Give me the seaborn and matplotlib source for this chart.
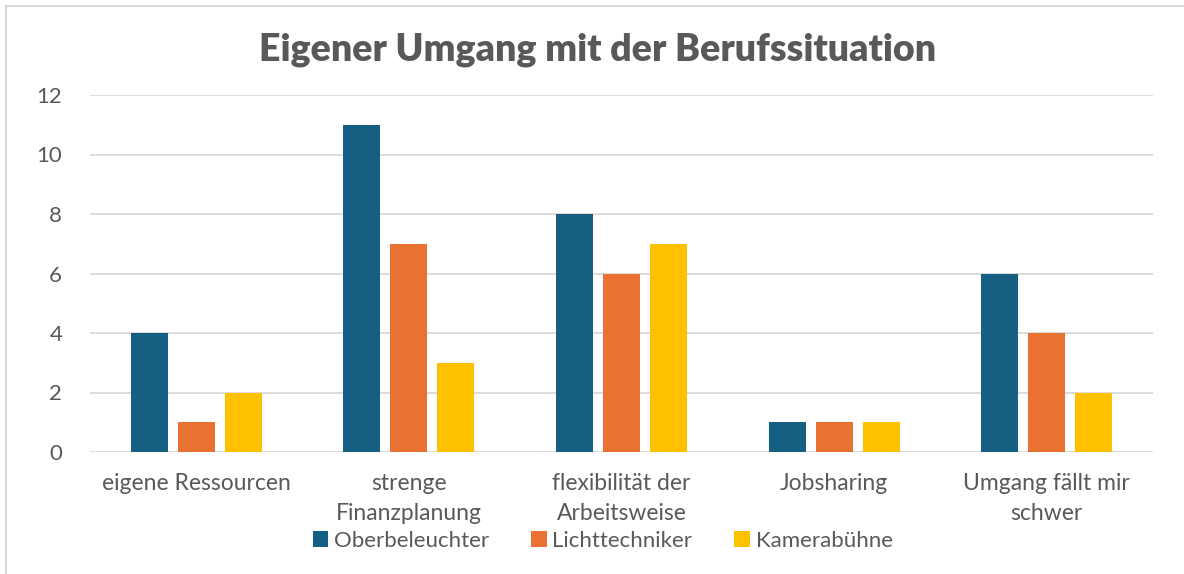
import matplotlib
matplotlib.use('Agg')
import matplotlib.pyplot as plt
import numpy as np
import pandas as pd
import seaborn as sns
from matplotlib.patches import Rectangle

# Daten aus dem Diagramm
kategorien = ['eigene Ressourcen', 'strenge\nFinanzplanung', 'flexibilität der\nArbeitsweise',
              'Jobsharing', 'Umgang fällt mir\nschwer']
gruppen = ['Oberbeleuchter', 'Lichttechniker', 'Kamerabühne']
oberbeleuchter = [4, 11, 8, 1, 6]
lichttechniker = [1, 7, 6, 1, 4]
kamerabuehne = [2, 3, 7, 1, 2]
farben = ['#156082', '#E97132', '#FFC000']

df = pd.DataFrame({
    'Kategorie': kategorien * 3,
    'Gruppe': np.repeat(gruppen, len(kategorien)),
    'Wert': oberbeleuchter + lichttechniker + kamerabuehne,
})

sns.set_theme(style='white')
plt.rcParams['font.family'] = ['Lato', 'DejaVu Sans']
textfarbe = '#595959'

fig = plt.figure(figsize=(11.84, 5.74), dpi=100)
ax = fig.add_axes([90 / 1184, 1 - 452 / 574, (1153 - 90) / 1184, (452 - 95) / 574])

sns.barplot(data=df, x='Kategorie', y='Wert', hue='Gruppe', palette=farben,
            width=0.663, gap=0.21, ax=ax, saturation=1, legend=True,
            edgecolor='none', linewidth=0)

ax.set_xlim(-0.5, 4.5)
ax.set_ylim(0, 12)
ax.set_yticks(range(0, 13, 2))
ax.yaxis.grid(True, color='#D9D9D9', linewidth=1.3)
ax.set_axisbelow(True)
for s in ax.spines.values():
    s.set_visible(False)
ax.set_xlabel('')
ax.set_ylabel('')
ax.tick_params(axis='y', labelsize=16, colors=textfarbe, pad=20, length=0)
ax.tick_params(axis='x', labelsize=16.5, colors=textfarbe, pad=15, length=0)
for lbl in ax.get_xticklabels():
    lbl.set_linespacing(1.55)

ax.legend(loc='center', bbox_to_anchor=(0.5 - (90 + 1153 - 1184) / 2 / 1063 + 0.01, -0.248),
          ncol=3, frameon=False, fontsize=16, labelcolor=textfarbe,
          handlelength=0.7, handleheight=0.7, handletextpad=0.25, columnspacing=1.9)

fig.text(0.5 + (598 - 592) / 1184, 1 - 50 / 574, 'Eigener Umgang mit der Berufssituation',
         ha='center', va='center', fontsize=27, fontweight='heavy', color=textfarbe)

# Rahmen des Diagramms (oben und links sichtbar)
fig.patches.append(Rectangle((6 / 1184, -0.1), 1.2, 1.1 - 6 / 574, transform=fig.transFigure,
                             fill=False, edgecolor='#D9D9D9', linewidth=1.5))

fig.savefig('out.png', dpi=100)
